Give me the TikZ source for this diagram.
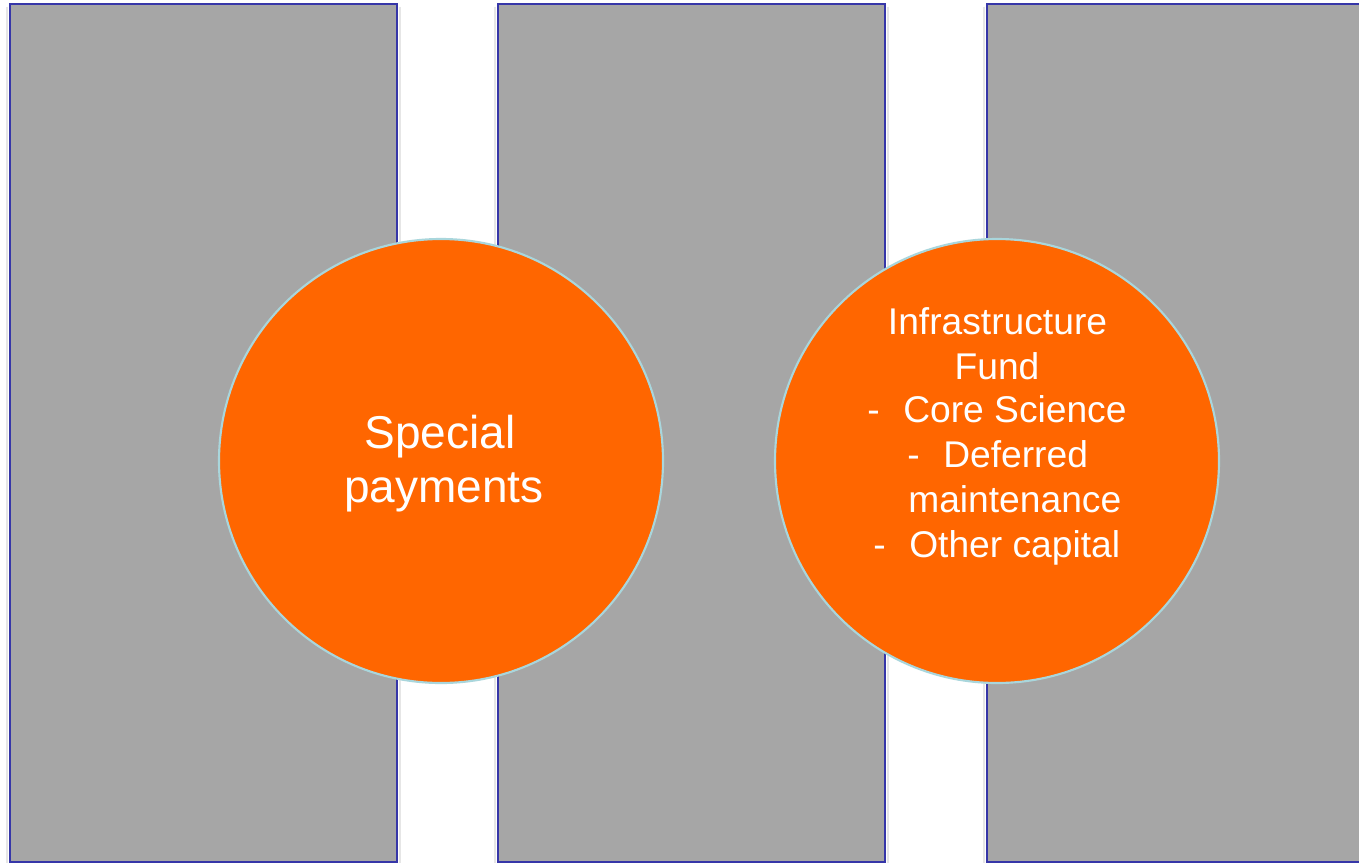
\documentclass[tikz,border=0pt]{standalone}
\usepackage{fontspec}
\setmainfont{Liberation Sans}
\definecolor{panelgrey}{HTML}{A6A6A6}
\definecolor{panelblue}{HTML}{3636A8}
\definecolor{discorange}{HTML}{FF6600}
\definecolor{discedge}{HTML}{A9D6DC}
\definecolor{shade}{HTML}{E6E6E6}
\tikzset{
  panel/.style={fill=panelgrey, draw=panelblue, line width=2pt},
  panelshadow/.style={draw=shade, line width=2pt},
  disc/.style={circle, fill=discorange, draw=discedge, line width=1.6pt, minimum size=444*0.75pt, inner sep=0pt},
  bigtxt/.style={text=white, inner sep=0pt, font=\fontsize{34.5pt}{40.5pt}\selectfont, align=center},
  smalltxt/.style={text=white, inner sep=0pt, font=\fontsize{27.9pt}{33.75pt}\selectfont}
}
\begin{document}
\begin{tikzpicture}[x=0.75pt,y=-0.75pt]
\useasboundingbox (0,0) rectangle (1359,863);
\fill[white] (0,0) rectangle (1359,863);
% soft shadows
\draw[panelshadow] (7,7) -- (7,866);
\draw[panelshadow] (400,7) -- (400,866);
\draw[panelshadow] (495,7) -- (495,866);
\draw[panelshadow] (888,7) -- (888,866);
\draw[panelshadow] (984,7) -- (984,866);
% panels
\draw[panel] (10,4) rectangle (397,862);
\draw[panel] (498,4) rectangle (885,862);
\draw[panel] (987,4) rectangle (1370,862);
% discs
\node[disc] (left) at (441,461) {};
\node[disc] (right) at (997,461) {};
% texts
\node[bigtxt, anchor=base] (sp) at (440,448) {Special};
\node[bigtxt, anchor=base] (pay) at (444,502) {payments};
\node[smalltxt, anchor=base] (inf) at (997.5,334) {Infrastructure};
\node[smalltxt, anchor=base] (fund) at (997,379) {Fund};
\node[smalltxt, anchor=base west] (d1) at (867,422) {-};
\node[smalltxt, anchor=base west] (core) at (903,422) {Core Science};
\node[smalltxt, anchor=base west] (d2) at (907,467) {-};
\node[smalltxt, anchor=base west] (def) at (943,467) {Deferred};
\node[smalltxt, anchor=base west] (mnt) at (908,512) {maintenance};
\node[smalltxt, anchor=base west] (d3) at (873,557) {-};
\node[smalltxt, anchor=base west] (oth) at (909,557) {Other capital};
\end{tikzpicture}
\end{document}
